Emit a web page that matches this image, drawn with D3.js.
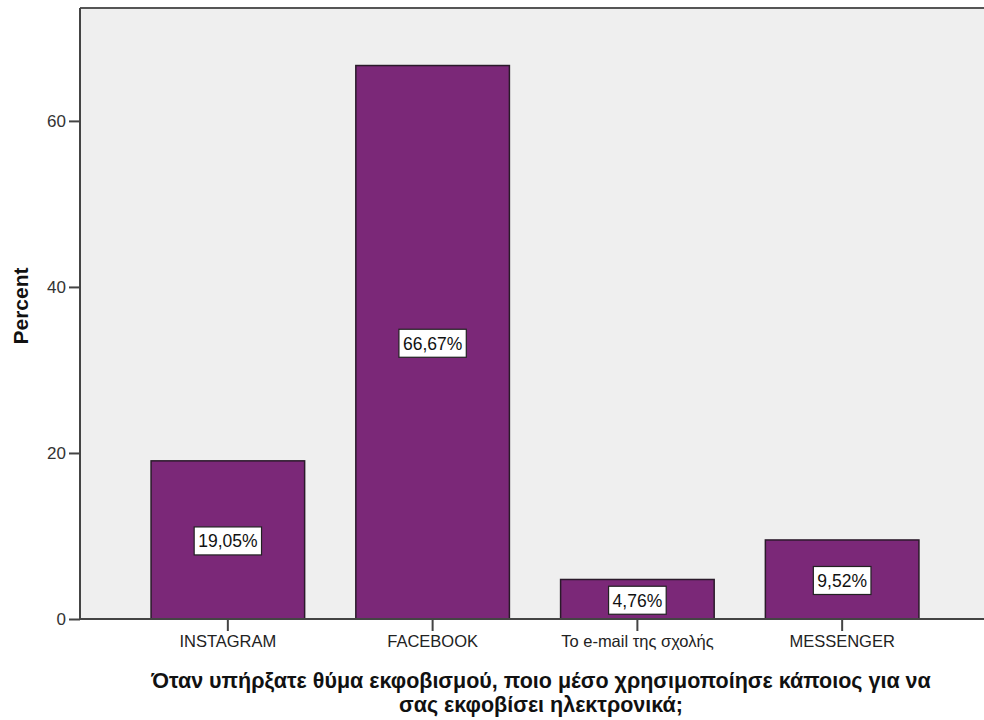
<!DOCTYPE html>
<html><head><meta charset="utf-8">
<script src="https://cdn.jsdelivr.net/npm/d3@7"></script>
<style>body{margin:0;background:#fff}svg{display:block}</style>
</head><body>
<svg id="c" width="984" height="720"></svg>
<script>
const categories = ["INSTAGRAM", "FACEBOOK", "Το e-mail της σχολής", "MESSENGER"];
const values = [19.05, 66.67, 4.76, 9.52];
const yTicks = [0, 20, 40, 60];
const yLabel = "Percent";
const xLabelLines = ["Όταν υπήρξατε θύμα εκφοβισμού, ποιο μέσο χρησιμοποίησε κάποιος για να", "σας εκφοβίσει ηλεκτρονικά;"];

const svg = d3.select("#c");
const font = "'Liberation Sans', Arial, sans-serif";
const L = 80, R = 990, T = 8, B = 619;

const x = d3.scaleBand().domain(categories).range([L, R]).paddingInner(0.25).paddingOuter(0.347);
const y = d3.scaleLinear().domain([0, 73.6]).range([B, T]);

svg.append("rect").attr("x", L).attr("y", T).attr("width", R - L).attr("height", B - T).attr("fill", "#efefef");

// bars
svg.selectAll("rect.bar").data(values).join("rect").attr("class", "bar")
  .attr("x", (d, i) => x(categories[i])).attr("width", x.bandwidth())
  .attr("y", d => y(d)).attr("height", d => y(0) - y(d))
  .attr("fill", "#7b2878").attr("stroke", "#2a1a2a").attr("stroke-width", 1.5);

// frame lines
svg.append("line").attr("x1", L).attr("x2", R).attr("y1", T).attr("y2", T).attr("stroke", "#555").attr("stroke-width", 2);
svg.append("line").attr("x1", L).attr("x2", L).attr("y1", T).attr("y2", B).attr("stroke", "#444").attr("stroke-width", 2);

// y axis
const ya = svg.append("g").attr("transform", `translate(${L},0)`)
  .call(d3.axisLeft(y).tickValues(yTicks).tickSize(11).tickPadding(3).tickFormat(d3.format("d")));
ya.select(".domain").remove();
ya.selectAll("line").attr("stroke", "#444").attr("stroke-width", 2);
ya.selectAll("text").attr("font-family", font).attr("font-size", 17).attr("fill", "#333");

// x axis
const xa = svg.append("g").attr("transform", `translate(0,${B})`)
  .call(d3.axisBottom(x).tickSize(12).tickPadding(4));
xa.select(".domain").attr("d", `M${L},0H${R}`).attr("stroke", "#444").attr("stroke-width", 2);
xa.selectAll("line").attr("stroke", "#444").attr("stroke-width", 2);
xa.selectAll("text").attr("font-family", font).attr("font-size", 16.5).attr("fill", "#222");

// value labels
const fmt = v => v.toFixed(2).replace(".", ",") + "%";
const lg = svg.selectAll("g.lab").data(values).join("g").attr("class", "lab")
  .attr("transform", (d, i) => `translate(${x(categories[i]) + x.bandwidth() / 2},${(y(d) + y(0)) / 2 + 1})`);
lg.each(function(d) {
  const g = d3.select(this);
  const r = g.append("rect");
  const t = g.append("text").text(fmt(d)).attr("font-family", font).attr("font-size", 17.5)
    .attr("text-anchor", "middle").attr("dy", "0.36em").attr("fill", "#111");
  const bb = t.node().getBBox();
  r.attr("x", bb.x - 4).attr("y", -14).attr("width", bb.width + 8).attr("height", 28)
    .attr("fill", "#fff").attr("stroke", "#222").attr("stroke-width", 1.2);
});

// axis titles
svg.append("text").attr("transform", `translate(28,306) rotate(-90)`).attr("text-anchor", "middle")
  .attr("font-family", font).attr("font-weight", "bold").attr("font-size", 21).attr("fill", "#111").text(yLabel);
xLabelLines.forEach((line, i) => {
  svg.append("text").attr("x", 541).attr("y", 688 + i * 24).attr("text-anchor", "middle")
    .attr("font-family", font).attr("font-weight", "bold").attr("font-size", 21.5).attr("fill", "#111")
    .text(line);
});
</script>
</body></html>
